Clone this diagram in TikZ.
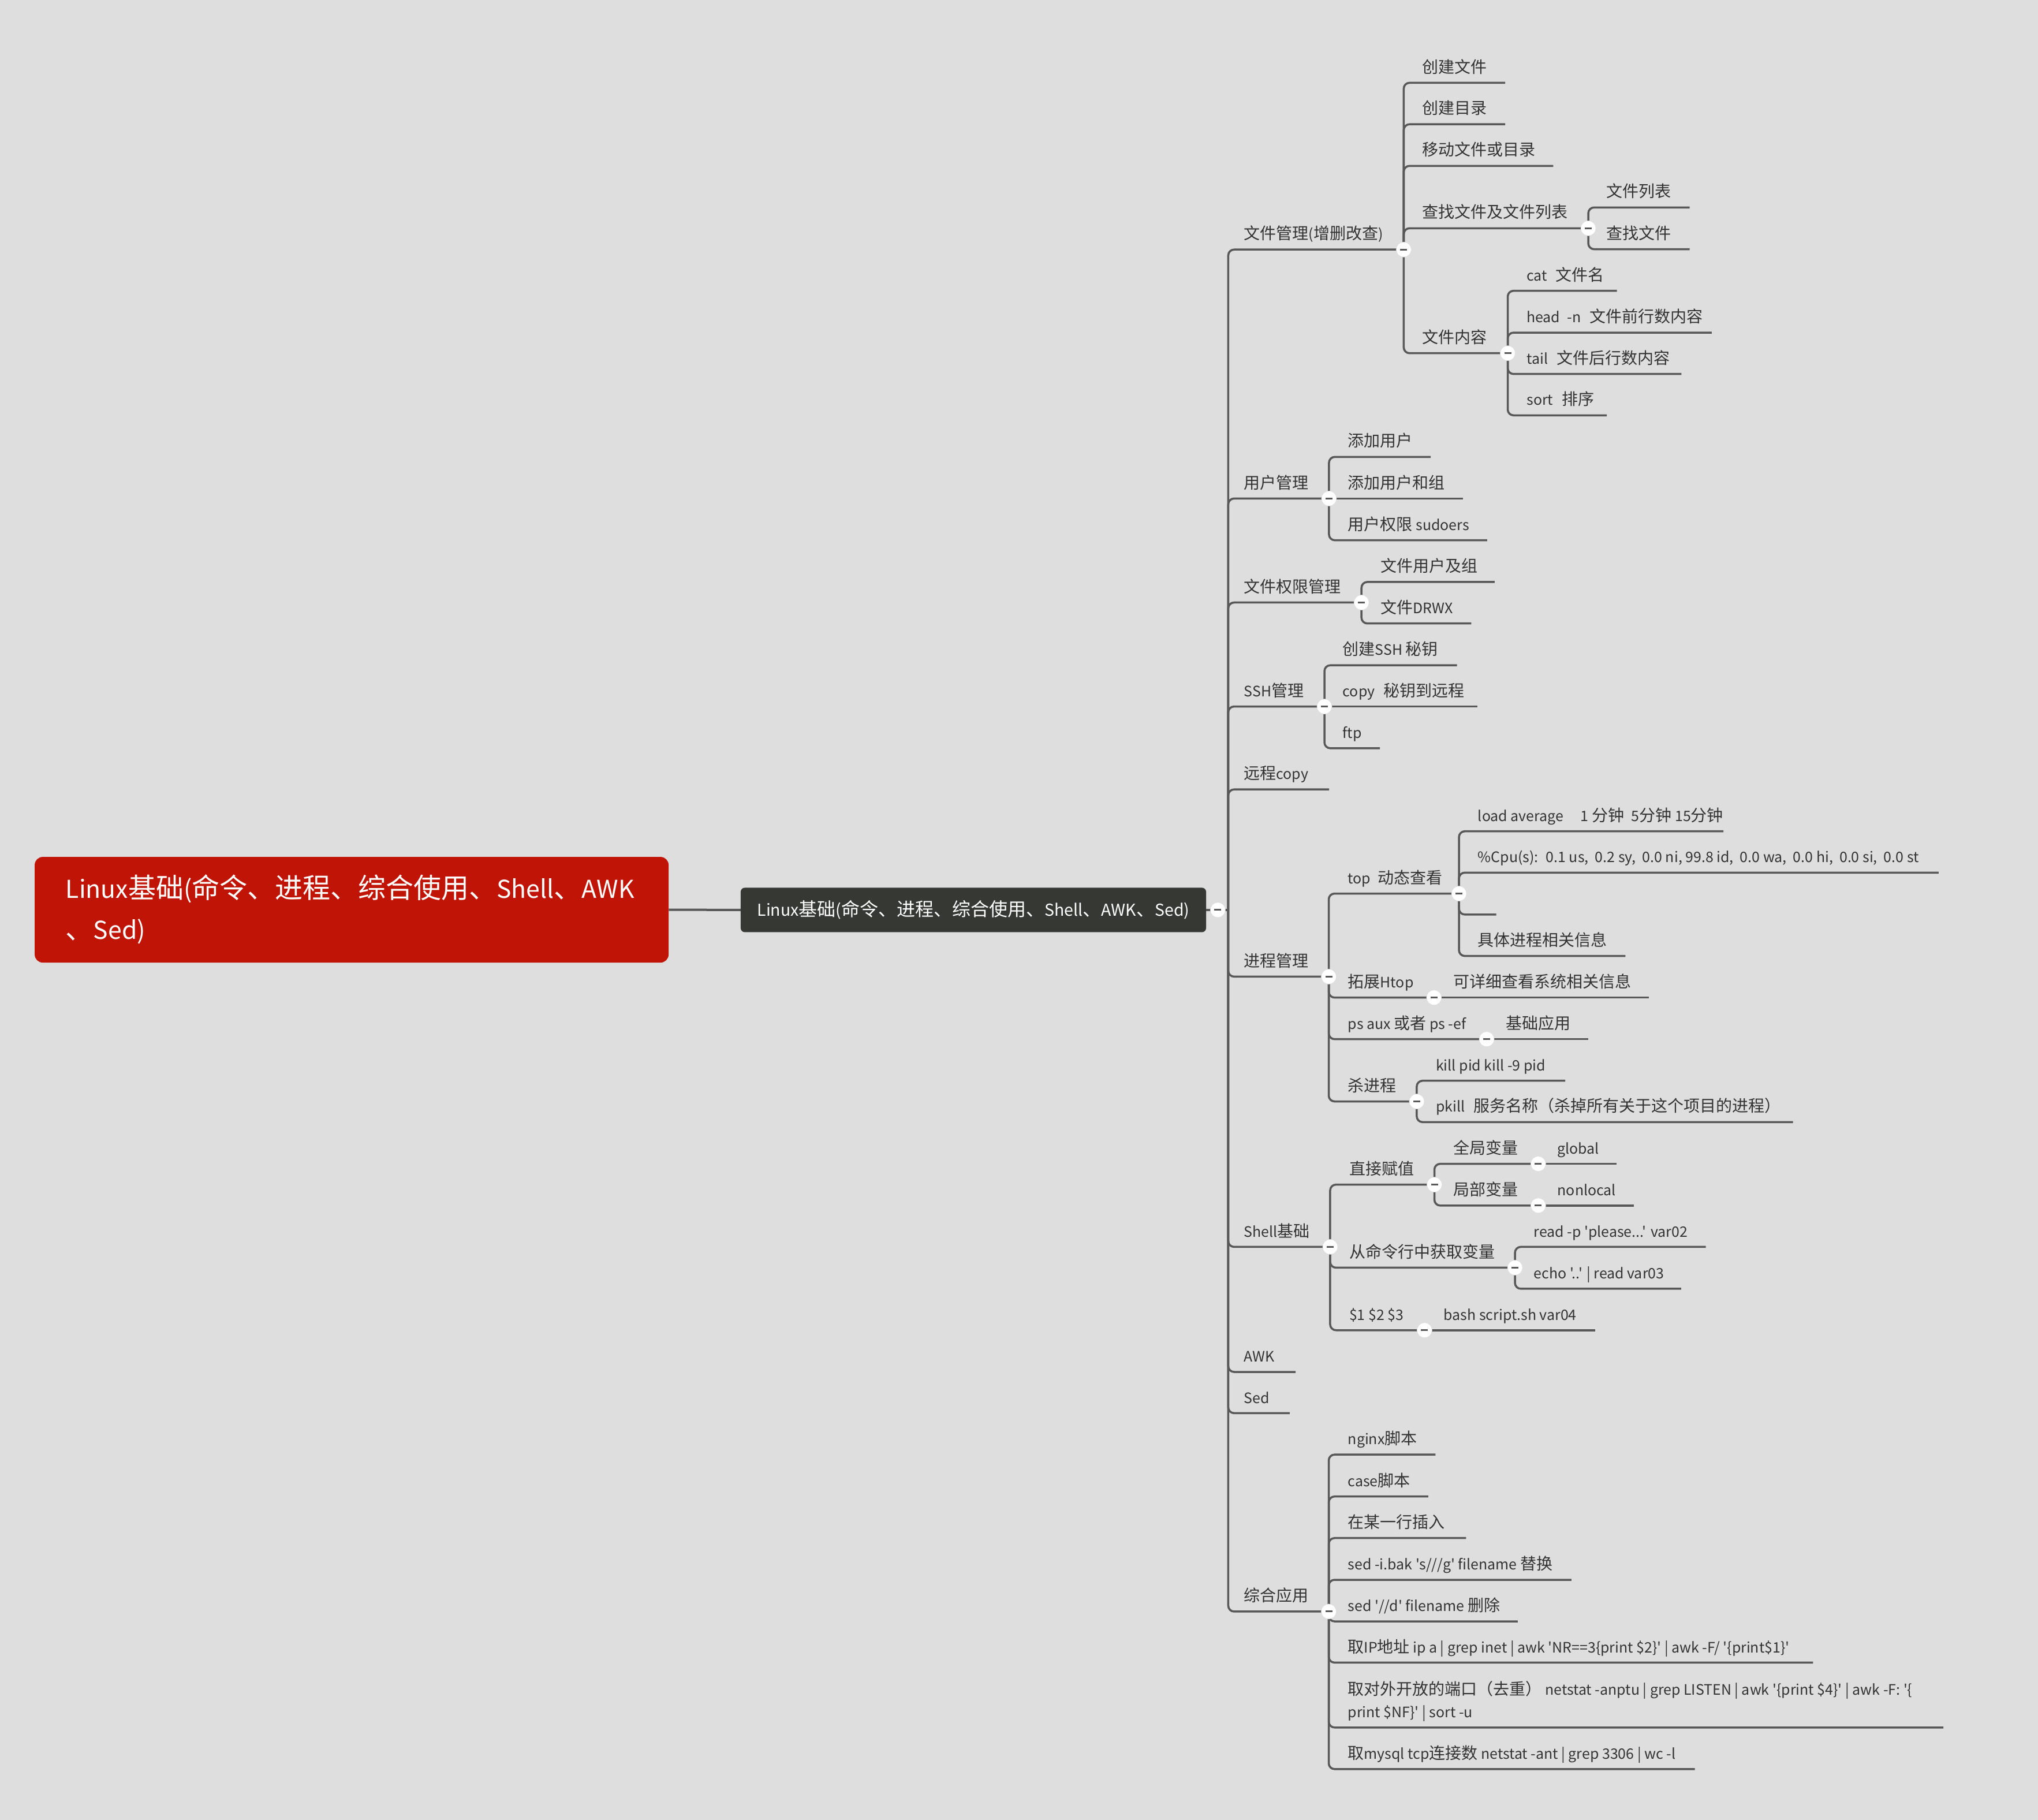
\documentclass[tikz,border=0pt]{standalone}
\usepackage{fontspec}
\setmainfont{Noto Sans CJK SC}[Ligatures=TeXOff, Scale=0.89]
\newfontfamily\cjkf{Noto Sans CJK SC}[Ligatures=TeXOff]
\XeTeXinterchartokenstate=1
\newXeTeXintercharclass\CJKcls
\newcommand\setcls[2]{\count255=#1 \loop\XeTeXcharclass\count255=\CJKcls\relax\ifnum\count255<#2 \advance\count255 by 1 \repeat}
\setcls{"3000}{"303F}
\setcls{"4E00}{"9FFF}
\setcls{"FF00}{"FFEF}
\XeTeXinterchartoks 0 \CJKcls = {\cjkf}
\XeTeXinterchartoks 4095 \CJKcls = {\cjkf}
\XeTeXinterchartoks \CJKcls 0 = {\rmfamily}
\XeTeXinterchartoks \CJKcls 4095 = {\rmfamily}
\definecolor{bg}{RGB}{222,222,222}
\definecolor{linec}{RGB}{88,88,88}
\definecolor{txt}{RGB}{51,51,51}
\definecolor{rootred}{RGB}{192,20,6}
\definecolor{centerc}{RGB}{54,56,51}
\tikzset{
  br/.style={draw=linec, line width=3.5pt, rounded corners=10pt},
  lbl/.style={anchor=base west, inner sep=0pt, text=txt, font=\fontsize{28}{34}\selectfont},
  tog/.style={circle, fill=white, draw=black!12, line width=0.6pt, minimum size=26pt, inner sep=0pt,
    path picture={\draw[line width=3pt, draw=linec] ([xshift=-6pt]path picture bounding box.center) -- ([xshift=6pt]path picture bounding box.center);}},
}
\newcommand\tpc[6]{%
  \coordinate (#2-e) at (#5,#4);
  \draw[br] (#1) |- (#2-e);
  \node[lbl] (#2) at (#3,#4-7.7) {#6};
}
\newcommand\tsc[6]{%
  \coordinate (#2-e) at (#5,#4);
  \draw[br] (#1) -- (#2-e);
  \node[lbl] (#2) at (#3,#4-7.7) {#6};
}
\begin{document}
\begin{tikzpicture}[x=2.2513pt,y=-2.2513pt]
\fill[bg] (0,0) rectangle (1568,1400);
\useasboundingbox (0,0) rectangle (1568,1400);

\node[fill=rootred, rounded corners=14pt, minimum width=1098pt, minimum height=183pt, inner sep=0pt] (root) at (270.55,699.85) {};
\node[anchor=base west, inner sep=0pt, text=white, font=\fontsize{48}{71}\selectfont, align=left] (roottxt) at (50.5,722.5) {Linux基础(命令、进程、综合使用、Shell、AWK\\、Sed)};
\node[fill=centerc, rounded corners=7pt, minimum width=806pt, minimum height=77pt, inner sep=0pt, text=white, font=\fontsize{32}{38}\selectfont] (center) at (748.9,700) {Linux基础(命令、进程、综合使用、Shell、AWK、Sed)};
\draw[draw=linec, line width=4pt] (root.east) -- (center.west);
\coordinate (T) at (945,700);
\draw[br] (center.east) -- (T);

\tpc{T}{fm}{957}{192}{1080}{文件管理(增删改查)}
\tpc{fm-e}{fa}{1094}{63.7}{1158}{创建文件}
\tpc{fm-e}{fb}{1094}{95.6}{1158}{创建目录}
\tpc{fm-e}{fc}{1094}{127.6}{1195}{移动文件或目录}
\tpc{fm-e}{fd}{1094}{175.6}{1222}{查找文件及文件列表}
\tpc{fd-e}{fda}{1236}{159.6}{1300}{文件列表}
\tpc{fd-e}{fdb}{1236}{191.7}{1300}{查找文件}
\tpc{fm-e}{ff}{1094}{271.7}{1160}{文件内容}
\tpc{ff-e}{ffa}{1174.5}{223.7}{1244}{cat\hspace{.6em}文件名}
\tpc{ff-e}{ffb}{1174.5}{255.9}{1317}{head\hspace{.5em}-n\hspace{.6em}文件前行数内容}
\tpc{ff-e}{ffc}{1174.5}{287.7}{1293.6}{tail\hspace{.6em}文件后行数内容}
\tpc{ff-e}{ffd}{1174.5}{319.5}{1236.2}{sort\hspace{.6em}排序}

\tpc{T}{um}{957}{383.5}{1022.5}{用户管理}
\tpc{um-e}{ua}{1037}{351.5}{1100.8}{添加用户}
\tsc{um-e}{ub}{1037}{383.5}{1125.4}{添加用户和组}
\tpc{um-e}{uc}{1037}{415.6}{1144.2}{用户权限 sudoers}

\tpc{T}{pm}{957}{463.5}{1047.5}{文件权限管理}
\tpc{pm-e}{pa}{1062}{447.7}{1150}{文件用户及组}
\tpc{pm-e}{pb}{1062}{479.6}{1132}{文件DRWX}

\tpc{T}{ss}{957}{543.5}{1019}{SSH管理}
\tpc{ss-e}{sa}{1033}{511.8}{1121}{创建SSH 秘钥}
\tsc{ss-e}{sb}{1033}{543.5}{1136.8}{copy\hspace{.6em}秘钥到远程}
\tpc{ss-e}{sc}{1033}{575.6}{1061.7}{ftp}

\tpc{T}{rc}{957}{607.3}{1022.6}{远程copy}

\tpc{T}{pr}{957}{751.3}{1022.3}{进程管理}
\tpc{pr-e}{top}{1037}{687.4}{1122.5}{top\hspace{.5em}动态查看}
\tpc{top-e}{ta}{1137}{639.5}{1326}{load average\hspace{1.2em}1 分钟\hspace{.5em}5分钟 15分钟}
\tpc{top-e}{tb}{1137}{671.3}{1491.5}{\%Cpu(s):~ 0.1 us,~ 0.2 sy,~ 0.0 ni, 99.8 id,~ 0.0 wa,~ 0.0 hi,~ 0.0 si,~ 0.0 st}
\tpc{top-e}{tc}{1137}{703.5}{1151.2}{}
\tpc{top-e}{td}{1137}{735.4}{1250.6}{具体进程相关信息}
\tpc{pr-e}{ht}{1037}{767.4}{1103.3}{拓展Htop}
\tsc{ht-e}{hta}{1118}{767.4}{1268.6}{可详细查看系统相关信息}
\tpc{pr-e}{ps}{1037}{799.4}{1143.8}{ps aux 或者 ps -ef}
\tsc{ps-e}{psa}{1158.5}{799.4}{1221.9}{基础应用}
\tpc{pr-e}{kl}{1037}{847.3}{1090}{杀进程}
\tpc{kl-e}{kla}{1104.7}{831.4}{1204.2}{kill pid kill -9 pid}
\tpc{kl-e}{klb}{1104.7}{863.2}{1379.5}{pkill\hspace{.6em}服务名称（杀掉所有关于这个项目的进程）}

\tpc{T}{sh}{957}{959.2}{1023.4}{Shell基础}
\tpc{sh-e}{dv}{1038}{911.3}{1103.6}{直接赋值}
\tpc{dv-e}{gv}{1118}{895.3}{1183.5}{全局变量}
\tsc{gv-e}{gva}{1198.2}{895.3}{1243.9}{global}
\tpc{dv-e}{lv}{1118}{927.4}{1183.5}{局部变量}
\tsc{lv-e}{lva}{1198.2}{927.4}{1257.1}{nonlocal}
\tpc{sh-e}{cl}{1038}{975.2}{1165.6}{从命令行中获取变量}
\tpc{cl-e}{cla}{1180}{959.2}{1312.4}{read -p 'please...' var02}
\tpc{cl-e}{clb}{1180}{991.4}{1293.4}{echo '..' | read var03}
\tpc{sh-e}{dl}{1038}{1023.3}{1096}{\$1 \$2 \$3}
\tsc{dl-e}{dla}{1110.7}{1023.3}{1227.4}{bash script.sh var04}

\tpc{T}{awk}{957}{1055.4}{996.8}{AWK}
\tpc{T}{sed}{957}{1087.1}{992.3}{Sed}

\tpc{T}{ap}{957}{1239.7}{1022.3}{综合应用}
\tpc{ap-e}{aa}{1037}{1119}{1104.4}{nginx脚本}
\tpc{ap-e}{ab}{1037}{1151.2}{1098.9}{case脚本}
\tpc{ap-e}{ac}{1037}{1183.2}{1128}{在某一行插入}
\tpc{ap-e}{ad}{1037}{1215.3}{1209}{sed -i.bak 's///g' filename 替换}
\tpc{ap-e}{ae}{1037}{1247.3}{1167.7}{sed '//d' filename 删除}
\tpc{ap-e}{af}{1037}{1279}{1394.9}{取IP地址 ip a | grep inet | awk 'NR==3\{print \$2\}' | awk -F/ '\{print\$1\}'}
\coordinate (ag-e) at (1495.2,1328.9);
\draw[br] (ap-e) |- (ag-e);
\node[lbl, align=left, font=\fontsize{28}{39.4}\selectfont] (ag) at (1037,1321.2) {取对外开放的端口（去重） netstat -anptu | grep LISTEN | awk '\{print \$4\}' | awk -F: '\{\\print \$NF\}' | sort -u};
\tpc{ap-e}{ah}{1037}{1360.9}{1304}{取mysql tcp连接数 netstat -ant | grep 3306 | wc -l}

\node[tog] (c0) at (937,700) {};
\foreach \n in {fm,fd,ff,um,pm,ss,pr,top,ht,ps,kl,sh,dv,gv,lv,cl,dl,ap} \node[tog] (c-\n) at (\n-e) {};
\end{tikzpicture}
\end{document}
